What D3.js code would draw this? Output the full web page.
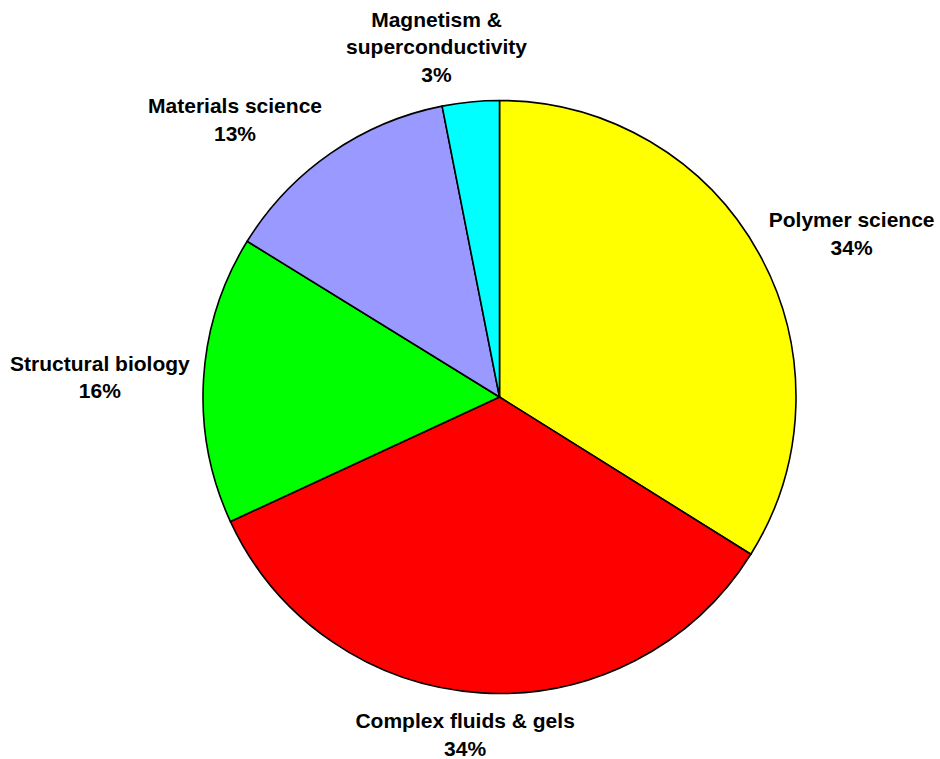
<!DOCTYPE html>
<html>
<head>
<meta charset="utf-8">
<script src="https://cdn.jsdelivr.net/npm/d3@7"></script>
<style>
  body { margin: 0; background: #fff; }
  svg { display: block; }
  .label { font-family: "Liberation Sans", Arial, sans-serif; font-weight: bold; font-size: 21px; fill: #000; }
</style>
</head>
<body>
<svg id="svg" width="940" height="759"></svg>
<script>
// topic categories, clockwise from 12 o'clock
var categories = [
    ["Polymer science"],
    ["Complex fluids & gels"],
    ["Structural biology"],
    ["Materials science"],
    ["Magnetism &", "superconductivity"]
];
var shares = [33.9, 34.2, 15.7, 13.1, 3.1]; // percent
var colors = ["#ffff00", "#ff0000", "#00ff00", "#9999ff", "#00ffff"];

var svg = d3.select("svg"),
    width = +svg.attr("width"),
    height = +svg.attr("height");

var cx = 499.5, cy = 397, radius = 296.5;
var lineH = 27.5;
var labelGap = 14;
// labels that got pushed sideways to stay clear of neighbours
var labelShift = [8, -8, 0, -38, -24];

var data = shares.map(function (v, i) {
    return {name: categories[i], value: v, color: colors[i]};
});

var pie = d3.pie().sort(null).value(function (d) { return d.value; });
var arc = d3.arc().innerRadius(0).outerRadius(radius);
var arcs = pie(data);

var g = svg.append("g").attr("transform", "translate(" + cx + "," + cy + ")");

g.selectAll(".slice")
    .data(arcs)
    .enter().append("path")
    .attr("class", "slice")
    .attr("d", arc)
    .attr("fill", function (d) { return d.data.color; })
    .attr("stroke", "#000")
    .attr("stroke-width", 1.6)
    .attr("stroke-linejoin", "round");

var labels = g.selectAll(".label")
    .data(arcs)
    .enter().append("text")
    .attr("class", "label")
    .attr("text-anchor", "middle");

labels.each(function (d, i) {
    var t = d3.select(this);
    var lines = d.data.name.concat([Math.round(d.data.value) + "%"]);
    lines.forEach(function (s, k) {
        t.append("tspan").attr("x", 0).attr("y", k * lineH).text(s);
    });
    // block size
    var w = 0;
    t.selectAll("tspan").each(function () {
        w = Math.max(w, this.getComputedTextLength());
    });
    var h = lines.length * lineH;
    var a = (d.startAngle + d.endAngle) / 2;
    var r = radius + labelGap;
    var px = r * Math.sin(a) + Math.sin(a) * w / 2 + labelShift[i];
    var py = -r * Math.cos(a) - Math.cos(a) * h / 2;
    var top = py - h / 2;
    t.selectAll("tspan")
        .attr("x", px)
        .attr("y", function (s, k) { return top + lineH / 2 + 7.5 + k * lineH; });
});
</script>
</body>
</html>
